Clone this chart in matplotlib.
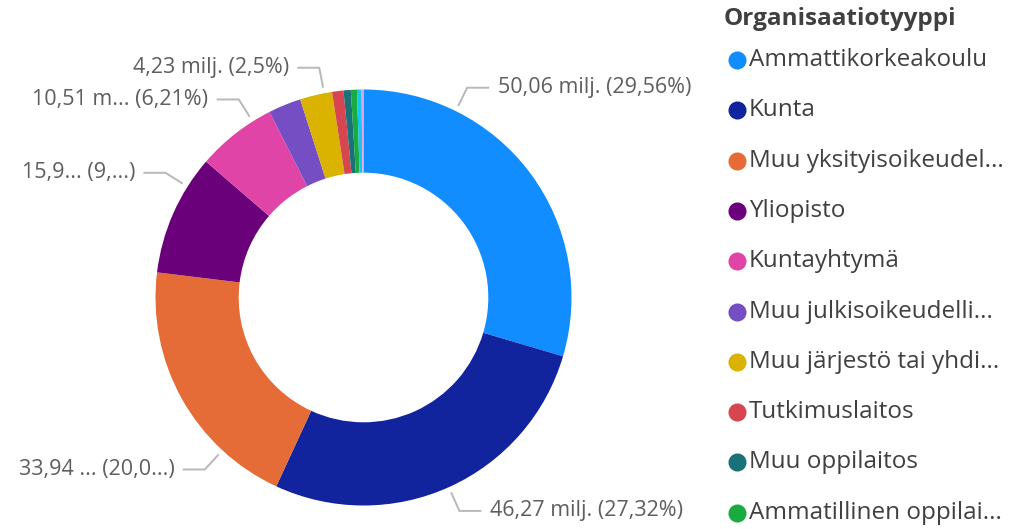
import numpy as np
import matplotlib.pyplot as plt

# Rahoitus organisaatiotyypeittäin (milj. €)
categories = ["Ammattikorkeakoulu", "Kunta", "Muu yksityisoikeudel...", "Yliopisto",
              "Kuntayhtymä", "Muu julkisoikeudelli...", "Muu järjestö tai yhdi...",
              "Tutkimuslaitos", "Muu oppilaitos", "Ammatillinen oppilai...",
              "Muu", "Muu 2"]
values = [50.06, 46.27, 33.94, 15.93, 10.51, 4.30, 4.23, 1.50, 0.95, 0.80, 0.60, 0.25]
colors = ["#118DFF", "#12239E", "#E66C37", "#6B007B", "#E044A7", "#744EC2",
          "#D9B300", "#D64550", "#197278", "#1AAB40", "#15C6F4", "#E8A0D8"]
n_legend = 10

# näkyvät datatunnisteet (Power BI lyhentää osan)
label_idx = [0, 1, 2, 3, 4, 6]
label_txt = ["50,06 milj. (29,56%)", "46,27 milj. (27,32%)", "33,94 ... (20,0...)",
             "15,9... (9,...)", "10,51 m... (6,21%)", "4,23 milj. (2,5%)"]
label_ang = [26.3, 155.8, 222.7, 302.2, 327.8, 349.1]   # asteina myötäpäivään ylhäältä

W, H = 1012, 529
cx, cy, R = 363.5, 297.5, 208.0

def px(x, y):
    return (x - cx) / R, (cy - y) / R

fig = plt.figure(figsize=(W / 100, H / 100), dpi=100)
ax = fig.add_axes([0, 0, 1, 1])
ax.pie(values, colors=colors, startangle=90, counterclock=False,
       wedgeprops=dict(width=0.4, edgecolor="none"))
ax.set_xlim(-cx / R, (W - cx) / R)
ax.set_ylim(-(H - cy) / R, cy / R)
ax.set_aspect("auto")
ax.axis("off")

lab_font = "Open Sans"
for i, txt, a in zip(label_idx, label_txt, label_ang):
    t = np.deg2rad(a)
    dx, dy = np.sin(t), np.cos(t)
    x0, y0 = 1.027 * dx, 1.027 * dy
    x1, y1 = 1.125 * dx, 1.125 * dy
    s = 1 if dx > 0 else -1
    x2 = x1 + s * 0.106
    ax.plot([x0, x1, x2], [y0, y1, y1], color="#b8b8b8", lw=1.4, solid_capstyle="butt")
    ax.text(x2 + s * 0.04, y1, txt, ha="left" if s > 0 else "right", va="center",
            fontsize=15.5, color="#605E5C", family=lab_font)

# legenda
tx, ty = px(724, 19)
ax.text(tx, ty, "Organisaatiotyyppi", fontsize=17.5, fontweight="bold",
        color="#404040", family=lab_font, va="center", ha="left")
for k in range(n_legend):
    yy = 60 + k * 50.3
    mx, my = px(737, yy)
    ax.plot(mx, my, "o", ms=13, color=colors[k], mec="none")
    lx, ly = px(749, yy)
    ax.text(lx, ly, categories[k], fontsize=17.5, color="#404040", family=lab_font,
            va="center", ha="left")

fig.savefig("out.png", dpi=100)
